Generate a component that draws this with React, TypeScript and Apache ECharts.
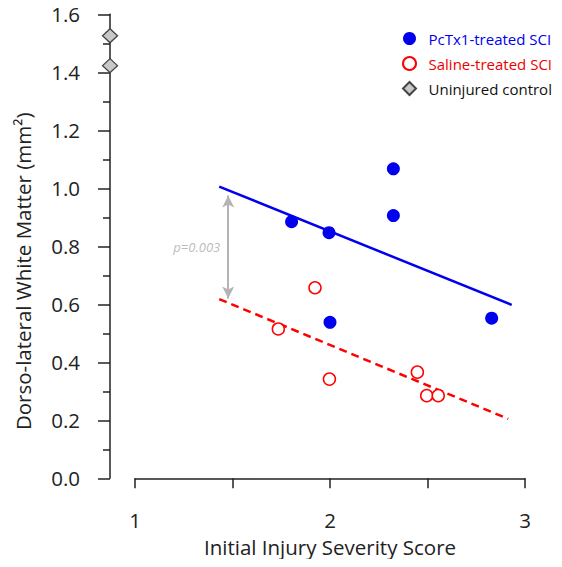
import React, { useEffect, useRef } from "react";
import * as echarts from "echarts";

const pctx1X = [1.803, 1.995, 2.325, 2.325, 2.0, 2.829];
const pctx1Y = [0.885, 0.847, 1.067, 0.906, 0.538, 0.552];
const salineX = [1.923, 1.735, 1.997, 2.448, 2.496, 2.555];
const salineY = [0.657, 0.515, 0.342, 0.366, 0.285, 0.285];
const controlX = [0.872, 0.872];
const controlY = [1.526, 1.423];
const pctx1FitX = [1.432, 2.932];
const pctx1FitY = [1.006, 0.598];
const salineFitX = [1.432, 2.914];
const salineFitY = [0.618, 0.205];
const arrowX = 1.478;
const arrowY = [0.975, 0.62];
const pLabel = "p=0.003";
const xTickLabels = ["1", "2", "3"];

const FONT = "Open Sans";
const DIAMOND = "path://M5 0 L10 5 L5 10 L0 5 Z";

export default function App() {
  const ref = useRef<HTMLDivElement>(null);
  useEffect(() => {
    const chart = echarts.init(ref.current!, undefined, { renderer: "svg" });
    const zip = (xs: number[], ys: number[]) => xs.map((x, i) => [x, ys[i]]);
    chart.setOption({
      animation: false,
      textStyle: { fontFamily: FONT },
      grid: [
        { left: 110, right: 37, top: 14.3, bottom: 88.7 },
        { left: 135, right: 37, top: 14.3, bottom: 88.7 },
      ],
      xAxis: [
        { type: "value", gridIndex: 0, min: 0.8718, max: 3, show: false },
        {
          type: "value",
          gridIndex: 1,
          min: 1,
          max: 3,
          interval: 0.5,
          offset: 14,
          axisLine: { show: true, lineStyle: { color: "#222", width: 1.5 } },
          axisTick: { show: true, length: 10, lineStyle: { color: "#222", width: 1.5 } },
          splitLine: { show: false },
          axisLabel: {
            margin: 17,
            fontSize: 20.5,
            color: "#222",
            fontFamily: FONT,
            formatter: (v: number) => (xTickLabels.includes(String(v)) ? String(v) : ""),
          },
          name: "Initial Injury Severity Score",
          nameLocation: "middle",
          nameGap: 44,
          nameTextStyle: { fontSize: 20.5, color: "#222", fontFamily: FONT },
        },
      ],
      yAxis: [
        {
          type: "value",
          gridIndex: 0,
          min: 0,
          max: 1.6,
          interval: 0.2,
          axisLine: { show: true, lineStyle: { color: "#222", width: 1.5 } },
          axisTick: { show: true, length: 12, lineStyle: { color: "#222", width: 1.5 } },
          minorTick: { show: true, splitNumber: 2, length: 7, lineStyle: { color: "#222", width: 1.5 } },
          splitLine: { show: false },
          axisLabel: {
            margin: 30,
            fontSize: 20.5,
            color: "#222",
            fontFamily: FONT,
            formatter: (v: number) => v.toFixed(1),
          },
          name: "Dorso-lateral White Matter (mm²)",
          nameLocation: "middle",
          nameGap: 77,
          nameTextStyle: { fontSize: 20.5, color: "#222", fontFamily: FONT, padding: [0, 50, 0, 0] },
        },
        { type: "value", gridIndex: 1, min: 0, max: 1.6, show: false },
      ],
      legend: {
        orient: "vertical",
        left: 397,
        top: 26,
        itemWidth: 28,
        itemHeight: 13,
        itemGap: 10,
        symbolKeepAspect: true,
        textStyle: { fontSize: 15, fontFamily: FONT },
        data: [
          { name: "PcTx1-treated SCI", icon: "circle", textStyle: { color: "#0000ee" } },
          { name: "Saline-treated SCI", icon: "circle", textStyle: { color: "#ee0000" } },
          { name: "Uninjured control", icon: DIAMOND, textStyle: { color: "#111" } },
        ],
      },
      series: [
        {
          type: "line",
          data: zip(pctx1FitX, pctx1FitY),
          showSymbol: false,
          lineStyle: { color: "#0000ee", width: 2.5 },
          silent: true,
          z: 1,
        },
        {
          type: "line",
          data: zip(salineFitX, salineFitY),
          showSymbol: false,
          lineStyle: { color: "#ff0000", width: 2.5, type: [8, 5] },
          silent: true,
          z: 1,
        },
        {
          type: "scatter",
          data: [[arrowX, (arrowY[0] + arrowY[1]) / 2]],
          symbolSize: 0,
          label: {
            show: true,
            position: "left",
            distance: 8,
            formatter: pLabel,
            fontStyle: "italic",
            fontSize: 13,
            color: "#aaaaaa",
            fontFamily: FONT,
          },
          markLine: {
            silent: true,
            symbol: ["arrow", "arrow"],
            symbolSize: [9, 12],
            label: { show: false },
            lineStyle: { color: "#b4b4b4", width: 2, type: "solid" },
            data: [[{ coord: [arrowX, arrowY[0]] }, { coord: [arrowX, arrowY[1]] }]],
          },
          z: 1,
        },
        {
          name: "PcTx1-treated SCI",
          type: "scatter",
          data: zip(pctx1X, pctx1Y),
          symbol: "circle",
          symbolSize: 13,
          itemStyle: { color: "#0000ee", opacity: 1 },
          z: 3,
        },
        {
          name: "Saline-treated SCI",
          type: "scatter",
          data: zip(salineX, salineY),
          symbol: "circle",
          symbolSize: 12,
          itemStyle: { color: "#ffffff", borderColor: "#ff0000", borderWidth: 1.5, opacity: 1 },
          z: 3,
        },
        {
          name: "Uninjured control",
          type: "scatter",
          data: zip(controlX, controlY),
          symbol: "diamond",
          symbolSize: [15, 14],
          itemStyle: { color: "#c8c8c8", borderColor: "#444", borderWidth: 1.3, opacity: 1 },
          z: 4,
        },
      ],
    });
    return () => chart.dispose();
  }, []);
  return <div ref={ref} style={{ width: 562, height: 567, margin: -8 }} />;
}
